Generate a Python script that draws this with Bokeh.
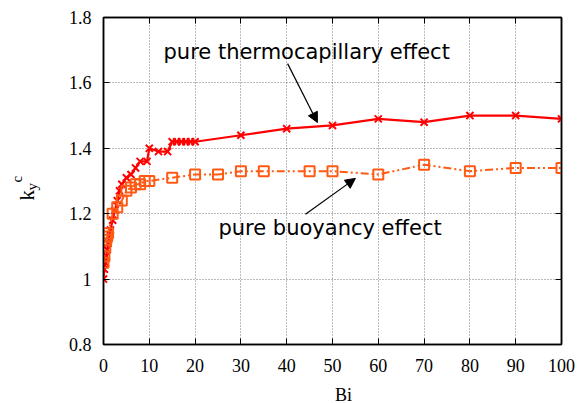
from bokeh.plotting import figure
from bokeh.layouts import row, column
from bokeh.models import (Range1d, LinearAxis, Label, Arrow, NormalHead,
                          FixedTicker, CustomJSTickFormatter)
from bokeh.embed import file_html
from bokeh.resources import INLINE
import math

# ---- data ----
bi_thermo = [0, 0.2, 0.4, 0.6, 0.8, 1, 1.5, 2, 2.5, 3, 3.5, 4, 5, 6, 7, 8, 9.5, 10,
             12, 14, 15, 16, 17, 18, 19, 20, 30, 40, 50, 60, 70, 80, 90, 100]
k_thermo = [1.00, 1.03, 1.05, 1.07, 1.09, 1.11, 1.15, 1.18, 1.21, 1.24, 1.27, 1.29,
            1.31, 1.32, 1.34, 1.36, 1.36, 1.40, 1.39, 1.39, 1.42, 1.42, 1.42, 1.42,
            1.42, 1.42, 1.44, 1.46, 1.47, 1.49, 1.48, 1.50, 1.50, 1.49]

bi_buoy = [0, 0.2, 0.4, 0.6, 0.8, 1, 2, 3, 4, 5, 6, 7, 8, 9, 10, 15, 20, 25, 30, 35,
           45, 50, 60, 70, 80, 90, 100]
k_buoy = [1.05, 1.07, 1.10, 1.12, 1.13, 1.14, 1.20, 1.22, 1.24, 1.27, 1.28, 1.29, 1.29,
          1.30, 1.30, 1.31, 1.32, 1.32, 1.33, 1.33, 1.33, 1.33, 1.32, 1.35, 1.33, 1.34, 1.34]

x_ticks = [0, 10, 20, 30, 40, 50, 60, 70, 80, 90, 100]
y_ticks = [0.8, 1.0, 1.2, 1.4, 1.6, 1.8]
y_tick_labels = {0.8: "0.8", 1.0: "1", 1.2: "1.2", 1.4: "1.4", 1.6: "1.6", 1.8: "1.8"}

RED = "#ff0000"
ORANGE = "#ff5a14"
SERIF = "'Liberation Serif', 'Times New Roman', serif"
SANS = "DejaVu Sans"

p = figure(width=519, height=381, output_backend="svg", toolbar_location=None,
           x_range=Range1d(0, 100), y_range=Range1d(0.8, 1.8),
           min_border_left=43, min_border_right=18, min_border_top=17,
           min_border_bottom=37)
p.background_fill_color = "white"
p.border_fill_color = "white"
p.outline_line_color = "black"
p.outline_line_width = 1.5

for ax in (p.xaxis[0], p.yaxis[0]):
    ax.axis_line_width = 1.5
    ax.major_tick_in = 6
    ax.major_tick_out = 0
    ax.minor_tick_in = 0
    ax.minor_tick_out = 0
    ax.major_label_text_font = SERIF
    ax.major_label_text_font_size = "18px"
    ax.major_label_text_color = "black"

p.xaxis.ticker = FixedTicker(ticks=x_ticks)
p.yaxis.ticker = FixedTicker(ticks=y_ticks)
p.yaxis.major_label_overrides = y_tick_labels
p.xaxis.major_label_standoff = 14
p.yaxis.major_label_standoff = 12

# mirrored axes with inward ticks, no labels
blank = CustomJSTickFormatter(code="return ''")
rax = LinearAxis(ticker=FixedTicker(ticks=y_ticks), formatter=blank,
                 major_tick_in=6, major_tick_out=0, minor_tick_in=0, minor_tick_out=0,
                 axis_line_width=1.5, major_label_standoff=0)
tax = LinearAxis(ticker=FixedTicker(ticks=x_ticks), formatter=blank,
                 major_tick_in=6, major_tick_out=0, minor_tick_in=0, minor_tick_out=0,
                 axis_line_width=1.5, major_label_standoff=0)
p.add_layout(rax, "right")
p.add_layout(tax, "above")

p.xgrid.ticker = FixedTicker(ticks=x_ticks[1:-1])
p.ygrid.ticker = FixedTicker(ticks=y_ticks[1:-1])
for g in (p.xgrid[0], p.ygrid[0]):
    g.grid_line_color = "#555555"
    g.grid_line_dash = "1 2"
    g.grid_line_width = 1
    g.grid_line_alpha = 0.8

# series
p.line(bi_thermo, k_thermo, line_color=RED, line_width=2.2)
p.scatter(bi_thermo, k_thermo, marker="x", size=10, line_color=RED, line_width=2)

p.line(bi_buoy, k_buoy, line_color=ORANGE, line_width=2, line_dash="8 3 2 3 2 3")
p.scatter(bi_buoy, k_buoy, marker="square", size=10, line_color=ORANGE,
          fill_color=None, line_width=2)

# annotations
p.add_layout(Label(x=13.1, y=1.694, text="pure thermocapillary effect",
                   text_font=SANS, text_font_size="21px", text_color="black",
                   text_baseline="alphabetic", text_align="left"))
p.add_layout(Label(x=25.1, y=1.155, text="pure buoyancy effect",
                   text_font=SANS, text_font_size="21px", text_color="black",
                   text_baseline="alphabetic", text_align="left"))
p.add_layout(Arrow(x_start=40.2, y_start=1.659, x_end=46.7, y_end=1.479,
                   line_color="black", line_width=1.2,
                   end=NormalHead(size=10, fill_color="black", line_color="black")))
p.add_layout(Arrow(x_start=44.1, y_start=1.198, x_end=55.0, y_end=1.308,
                   line_color="black", line_width=1.2,
                   end=NormalHead(size=10, fill_color="black", line_color="black")))


def strip(w, h):
    s = figure(width=w, height=h, output_backend="svg", toolbar_location=None,
               x_range=Range1d(0, w), y_range=Range1d(0, h),
               x_axis_type=None, y_axis_type=None, min_border=0)
    s.outline_line_color = None
    s.grid.visible = False
    s.background_fill_color = "white"
    s.border_fill_color = "white"
    return s


# left strip carrying the rotated y-axis label k_y^c (pixel-like coordinates)
lab = strip(60, 403)
lab.add_layout(Label(x=26, y=203, text="k", angle=math.pi / 2,
                     text_font=SERIF, text_font_size="21px", text_color="black",
                     text_baseline="alphabetic", text_align="left"))
lab.add_layout(Label(x=31, y=213, text="y", angle=math.pi / 2,
                     text_font=SERIF, text_font_size="15px", text_color="black",
                     text_baseline="alphabetic", text_align="left"))
lab.add_layout(Label(x=16, y=221, text="c", angle=math.pi / 2,
                     text_font=SERIF, text_font_size="15px", text_color="black",
                     text_baseline="alphabetic", text_align="left"))

# bottom strip carrying the x-axis label
bot = strip(519, 22)
bot.add_layout(Label(x=272, y=9, text="Bi", text_font=SERIF, text_font_size="18px",
                     text_color="black", text_baseline="middle", text_align="center"))

layout = row(lab, column(p, bot, spacing=0), spacing=0)
open("out.html", "w").write(file_html(layout, INLINE))
